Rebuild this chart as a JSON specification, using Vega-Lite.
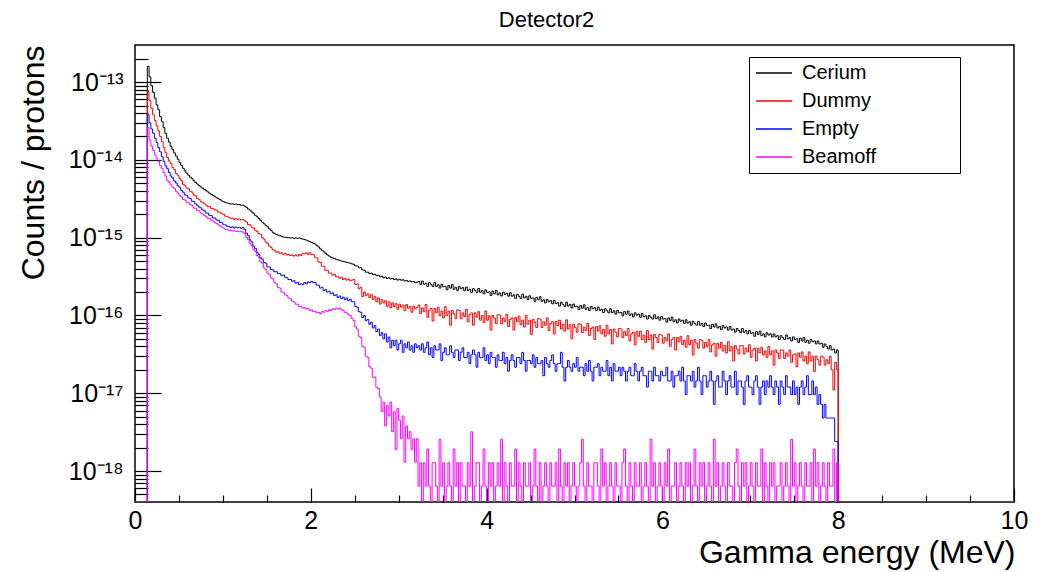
{
"$schema": "https://vega.github.io/schema/vega-lite/v6.json",
"width": 879, "height": 457, "autosize": "none",
"padding": {"left": 135, "top": 45, "right": 33, "bottom": 70},
"background": "white",
"title": {"text": "Detector2", "fontSize": 22, "font": "Liberation Sans", "fontWeight": "normal", "color": "black", "anchor": "middle", "frame": "group", "baseline": "alphabetic", "offset": 18, "dx": -28, "dy": 22},
"data": {"values": [
{"E":0,"Cerium":4e-19,"Dummy":4e-19,"Empty":4e-19,"Beamoff":4e-19},
{"E":0.14,"Cerium":1.6e-13,"Dummy":7.6e-14,"Empty":3.8e-14,"Beamoff":2.6e-14},
{"E":0.16,"Cerium":1.17e-13,"Dummy":5.8e-14,"Empty":3.0e-14,"Beamoff":1.8e-14},
{"E":0.18,"Cerium":9.0e-14,"Dummy":4.6e-14,"Empty":2.5e-14,"Beamoff":1.5e-14},
{"E":0.20,"Cerium":7.4e-14,"Dummy":3.8e-14,"Empty":2.2e-14,"Beamoff":1.33e-14},
{"E":0.22,"Cerium":6.2e-14,"Dummy":3.2e-14,"Empty":1.9e-14,"Beamoff":1.16e-14},
{"E":0.24,"Cerium":5.1e-14,"Dummy":2.75e-14,"Empty":1.67e-14,"Beamoff":1.05e-14},
{"E":0.26,"Cerium":4.4e-14,"Dummy":2.36e-14,"Empty":1.44e-14,"Beamoff":9.6e-15},
{"E":0.28,"Cerium":3.6e-14,"Dummy":2.0e-14,"Empty":1.27e-14,"Beamoff":8.4e-15},
{"E":0.30,"Cerium":3.1e-14,"Dummy":1.71e-14,"Empty":1.1e-14,"Beamoff":7.8e-15},
{"E":0.32,"Cerium":2.6e-14,"Dummy":1.44e-14,"Empty":9.6e-15,"Beamoff":6.9e-15},
{"E":0.34,"Cerium":2.2e-14,"Dummy":1.24e-14,"Empty":8.4e-15,"Beamoff":6.2e-15},
{"E":0.36,"Cerium":1.9e-14,"Dummy":1.07e-14,"Empty":7.7e-15,"Beamoff":5.4e-15},
{"E":0.38,"Cerium":1.7e-14,"Dummy":9.7e-15,"Empty":6.9e-15,"Beamoff":5.15e-15},
{"E":0.40,"Cerium":1.5e-14,"Dummy":9.0e-15,"Empty":6.2e-15,"Beamoff":4.8e-15},
{"E":0.42,"Cerium":1.36e-14,"Dummy":8.0e-15,"Empty":5.85e-15,"Beamoff":4.45e-15},
{"E":0.44,"Cerium":1.23e-14,"Dummy":7.5e-15,"Empty":5.35e-15,"Beamoff":4.3e-15},
{"E":0.46,"Cerium":1.12e-14,"Dummy":6.7e-15,"Empty":5.05e-15,"Beamoff":3.95e-15},
{"E":0.48,"Cerium":1.02e-14,"Dummy":6.35e-15,"Empty":4.65e-15,"Beamoff":3.75e-15},
{"E":0.50,"Cerium":9.3e-15,"Dummy":5.75e-15,"Empty":4.45e-15,"Beamoff":3.5e-15},
{"E":0.52,"Cerium":8.5e-15,"Dummy":5.45e-15,"Empty":4.05e-15,"Beamoff":3.35e-15},
{"E":0.54,"Cerium":7.8e-15,"Dummy":4.85e-15,"Empty":3.85e-15,"Beamoff":3.1e-15},
{"E":0.56,"Cerium":7.25e-15,"Dummy":4.65e-15,"Empty":3.55e-15,"Beamoff":3.05e-15},
{"E":0.58,"Cerium":6.75e-15,"Dummy":4.35e-15,"Empty":3.5e-15,"Beamoff":2.85e-15},
{"E":0.60,"Cerium":6.35e-15,"Dummy":4.25e-15,"Empty":3.25e-15,"Beamoff":2.8e-15},
{"E":0.62,"Cerium":6.0e-15,"Dummy":3.95e-15,"Empty":3.2e-15,"Beamoff":2.65e-15},
{"E":0.64,"Cerium":5.75e-15,"Dummy":3.85e-15,"Empty":2.95e-15,"Beamoff":2.62e-15},
{"E":0.66,"Cerium":5.4e-15,"Dummy":3.55e-15,"Empty":2.92e-15,"Beamoff":2.42e-15},
{"E":0.68,"Cerium":5.15e-15,"Dummy":3.45e-15,"Empty":2.72e-15,"Beamoff":2.38e-15},
{"E":0.70,"Cerium":4.9e-15,"Dummy":3.18e-15,"Empty":2.62e-15,"Beamoff":2.22e-15},
{"E":0.72,"Cerium":4.7e-15,"Dummy":3.12e-15,"Empty":2.48e-15,"Beamoff":2.22e-15},
{"E":0.74,"Cerium":4.5e-15,"Dummy":2.92e-15,"Empty":2.42e-15,"Beamoff":2.08e-15},
{"E":0.76,"Cerium":4.32e-15,"Dummy":2.84e-15,"Empty":2.28e-15,"Beamoff":2.02e-15},
{"E":0.78,"Cerium":4.18e-15,"Dummy":2.72e-15,"Empty":2.22e-15,"Beamoff":1.93e-15},
{"E":0.80,"Cerium":4.02e-15,"Dummy":2.63e-15,"Empty":2.08e-15,"Beamoff":1.88e-15},
{"E":0.82,"Cerium":3.88e-15,"Dummy":2.52e-15,"Empty":2.07e-15,"Beamoff":1.78e-15},
{"E":0.84,"Cerium":3.72e-15,"Dummy":2.51e-15,"Empty":1.93e-15,"Beamoff":1.76e-15},
{"E":0.86,"Cerium":3.6e-15,"Dummy":2.38e-15,"Empty":1.92e-15,"Beamoff":1.68e-15},
{"E":0.88,"Cerium":3.5e-15,"Dummy":2.36e-15,"Empty":1.79e-15,"Beamoff":1.64e-15},
{"E":0.90,"Cerium":3.38e-15,"Dummy":2.28e-15,"Empty":1.79e-15,"Beamoff":1.56e-15},
{"E":0.92,"Cerium":3.26e-15,"Dummy":2.26e-15,"Empty":1.69e-15,"Beamoff":1.52e-15},
{"E":0.94,"Cerium":3.16e-15,"Dummy":2.13e-15,"Empty":1.67e-15,"Beamoff":1.46e-15},
{"E":0.96,"Cerium":3.08e-15,"Dummy":2.12e-15,"Empty":1.57e-15,"Beamoff":1.42e-15},
{"E":0.98,"Cerium":2.96e-15,"Dummy":2.03e-15,"Empty":1.56e-15,"Beamoff":1.37e-15},
{"E":1.00,"Cerium":2.9e-15,"Dummy":2.01e-15,"Empty":1.47e-15,"Beamoff":1.33e-15},
{"E":1.02,"Cerium":2.82e-15,"Dummy":1.89e-15,"Empty":1.46e-15,"Beamoff":1.28e-15},
{"E":1.04,"Cerium":2.79e-15,"Dummy":1.87e-15,"Empty":1.4e-15,"Beamoff":1.27e-15},
{"E":1.06,"Cerium":2.76e-15,"Dummy":1.81e-15,"Empty":1.39e-15,"Beamoff":1.24e-15},
{"E":1.08,"Cerium":2.71e-15,"Dummy":1.77e-15,"Empty":1.35e-15,"Beamoff":1.25e-15},
{"E":1.10,"Cerium":2.72e-15,"Dummy":1.79e-15,"Empty":1.38e-15,"Beamoff":1.22e-15},
{"E":1.12,"Cerium":2.68e-15,"Dummy":1.72e-15,"Empty":1.33e-15,"Beamoff":1.23e-15},
{"E":1.14,"Cerium":2.7e-15,"Dummy":1.76e-15,"Empty":1.37e-15,"Beamoff":1.2e-15},
{"E":1.16,"Cerium":2.66e-15,"Dummy":1.7e-15,"Empty":1.34e-15,"Beamoff":1.22e-15},
{"E":1.18,"Cerium":2.67e-15,"Dummy":1.74e-15,"Empty":1.36e-15,"Beamoff":1.19e-15},
{"E":1.20,"Cerium":2.61e-15,"Dummy":1.69e-15,"Empty":1.32e-15,"Beamoff":1.21e-15},
{"E":1.22,"Cerium":2.62e-15,"Dummy":1.71e-15,"Empty":1.35e-15,"Beamoff":1.18e-15},
{"E":1.24,"Cerium":2.55e-15,"Dummy":1.65e-15,"Empty":1.27e-15,"Beamoff":1.13e-15},
{"E":1.26,"Cerium":2.46e-15,"Dummy":1.59e-15,"Empty":1.14e-15,"Beamoff":1.01e-15},
{"E":1.28,"Cerium":2.34e-15,"Dummy":1.48e-15,"Empty":1.06e-15,"Beamoff":9.4e-16},
{"E":1.30,"Cerium":2.26e-15,"Dummy":1.46e-15,"Empty":9.4e-16,"Beamoff":8.4e-16},
{"E":1.32,"Cerium":2.14e-15,"Dummy":1.36e-15,"Empty":8.8e-16,"Beamoff":7.9e-16},
{"E":1.34,"Cerium":2.06e-15,"Dummy":1.33e-15,"Empty":7.8e-16,"Beamoff":7.1e-16},
{"E":1.36,"Cerium":1.94e-15,"Dummy":1.25e-15,"Empty":7.3e-16,"Beamoff":6.7e-16},
{"E":1.38,"Cerium":1.86e-15,"Dummy":1.21e-15,"Empty":6.5e-16,"Beamoff":5.9e-16},
{"E":1.40,"Cerium":1.77e-15,"Dummy":1.13e-15,"Empty":6.1e-16,"Beamoff":5.6e-16},
{"E":1.42,"Cerium":1.67e-15,"Dummy":1.11e-15,"Empty":5.5e-16,"Beamoff":4.9e-16},
{"E":1.44,"Cerium":1.58e-15,"Dummy":1.0e-15,"Empty":5.3e-16,"Beamoff":4.7e-16},
{"E":1.46,"Cerium":1.51e-15,"Dummy":9.6e-16,"Empty":4.8e-16,"Beamoff":4.1e-16},
{"E":1.48,"Cerium":1.44e-15,"Dummy":8.8e-16,"Empty":4.7e-16,"Beamoff":3.9e-16},
{"E":1.50,"Cerium":1.38e-15,"Dummy":8.4e-16,"Empty":4.2e-16,"Beamoff":3.5e-16},
{"E":1.52,"Cerium":1.3e-15,"Dummy":7.8e-16,"Empty":4.2e-16,"Beamoff":3.35e-16},
{"E":1.54,"Cerium":1.24e-15,"Dummy":7.5e-16,"Empty":3.9e-16,"Beamoff":3.05e-16},
{"E":1.56,"Cerium":1.17e-15,"Dummy":7.0e-16,"Empty":3.85e-16,"Beamoff":2.95e-16},
{"E":1.58,"Cerium":1.13e-15,"Dummy":6.9e-16,"Empty":3.65e-16,"Beamoff":2.65e-16},
{"E":1.60,"Cerium":1.1e-15,"Dummy":6.5e-16,"Empty":3.65e-16,"Beamoff":2.55e-16},
{"E":1.62,"Cerium":1.08e-15,"Dummy":6.6e-16,"Empty":3.45e-16,"Beamoff":2.3e-16},
{"E":1.64,"Cerium":1.06e-15,"Dummy":6.3e-16,"Empty":3.45e-16,"Beamoff":2.25e-16},
{"E":1.66,"Cerium":1.04e-15,"Dummy":6.4e-16,"Empty":3.25e-16,"Beamoff":2.0e-16},
{"E":1.68,"Cerium":1.02e-15,"Dummy":6.1e-16,"Empty":3.3e-16,"Beamoff":1.98e-16},
{"E":1.70,"Cerium":1.01e-15,"Dummy":6.3e-16,"Empty":3.1e-16,"Beamoff":1.84e-16},
{"E":1.72,"Cerium":1.0e-15,"Dummy":6.0e-16,"Empty":3.05e-16,"Beamoff":1.8e-16},
{"E":1.74,"Cerium":1.0e-15,"Dummy":6.1e-16,"Empty":2.9e-16,"Beamoff":1.68e-16},
{"E":1.76,"Cerium":9.9e-16,"Dummy":5.9e-16,"Empty":2.9e-16,"Beamoff":1.64e-16},
{"E":1.78,"Cerium":1.0e-15,"Dummy":6.0e-16,"Empty":2.75e-16,"Beamoff":1.53e-16},
{"E":1.80,"Cerium":9.8e-16,"Dummy":5.8e-16,"Empty":2.8e-16,"Beamoff":1.5e-16},
{"E":1.82,"Cerium":9.9e-16,"Dummy":6.0e-16,"Empty":2.6e-16,"Beamoff":1.4e-16},
{"E":1.84,"Cerium":9.8e-16,"Dummy":5.8e-16,"Empty":2.65e-16,"Beamoff":1.39e-16},
{"E":1.86,"Cerium":9.9e-16,"Dummy":6.1e-16,"Empty":2.5e-16,"Beamoff":1.3e-16},
{"E":1.88,"Cerium":9.7e-16,"Dummy":5.9e-16,"Empty":2.55e-16,"Beamoff":1.3e-16},
{"E":1.90,"Cerium":9.6e-16,"Dummy":6.3e-16,"Empty":2.5e-16,"Beamoff":1.25e-16},
{"E":1.92,"Cerium":9.5e-16,"Dummy":6.2e-16,"Empty":2.65e-16,"Beamoff":1.27e-16},
{"E":1.94,"Cerium":9.3e-16,"Dummy":6.4e-16,"Empty":2.55e-16,"Beamoff":1.21e-16},
{"E":1.96,"Cerium":9.1e-16,"Dummy":6.1e-16,"Empty":2.7e-16,"Beamoff":1.23e-16},
{"E":1.98,"Cerium":8.9e-16,"Dummy":6.4e-16,"Empty":2.65e-16,"Beamoff":1.16e-16},
{"E":2.00,"Cerium":8.7e-16,"Dummy":6.1e-16,"Empty":2.75e-16,"Beamoff":1.18e-16},
{"E":2.02,"Cerium":8.5e-16,"Dummy":6.1e-16,"Empty":2.65e-16,"Beamoff":1.12e-16},
{"E":2.04,"Cerium":8.3e-16,"Dummy":5.6e-16,"Empty":2.65e-16,"Beamoff":1.14e-16},
{"E":2.06,"Cerium":7.9e-16,"Dummy":5.5e-16,"Empty":2.45e-16,"Beamoff":1.08e-16},
{"E":2.08,"Cerium":7.6e-16,"Dummy":4.9e-16,"Empty":2.45e-16,"Beamoff":1.1e-16},
{"E":2.10,"Cerium":7.2e-16,"Dummy":4.8e-16,"Empty":2.25e-16,"Beamoff":1.05e-16},
{"E":2.12,"Cerium":6.9e-16,"Dummy":4.3e-16,"Empty":2.3e-16,"Beamoff":1.12e-16},
{"E":2.14,"Cerium":6.6e-16,"Dummy":4.3e-16,"Empty":2.1e-16,"Beamoff":1.1e-16},
{"E":2.16,"Cerium":6.3e-16,"Dummy":3.8e-16,"Empty":2.15e-16,"Beamoff":1.16e-16},
{"E":2.18,"Cerium":6.0e-16,"Dummy":3.8e-16,"Empty":2.0e-16,"Beamoff":1.13e-16},
{"E":2.20,"Cerium":5.8e-16,"Dummy":3.5e-16,"Empty":2.05e-16,"Beamoff":1.19e-16},
{"E":2.22,"Cerium":5.6e-16,"Dummy":3.5e-16,"Empty":1.9e-16,"Beamoff":1.16e-16},
{"E":2.24,"Cerium":5.5e-16,"Dummy":3.3e-16,"Empty":1.95e-16,"Beamoff":1.22e-16},
{"E":2.26,"Cerium":5.4e-16,"Dummy":3.4e-16,"Empty":1.8e-16,"Beamoff":1.19e-16},
{"E":2.28,"Cerium":5.25e-16,"Dummy":3.15e-16,"Empty":1.85e-16,"Beamoff":1.24e-16},
{"E":2.30,"Cerium":5.2e-16,"Dummy":3.15e-16,"Empty":1.7e-16,"Beamoff":1.21e-16},
{"E":2.32,"Cerium":5.1e-16,"Dummy":3.0e-16,"Empty":1.78e-16,"Beamoff":1.25e-16},
{"E":2.34,"Cerium":5.0e-16,"Dummy":3.1e-16,"Empty":1.65e-16,"Beamoff":1.19e-16},
{"E":2.36,"Cerium":4.95e-16,"Dummy":2.9e-16,"Empty":1.72e-16,"Beamoff":1.16e-16},
{"E":2.38,"Cerium":4.9e-16,"Dummy":3.0e-16,"Empty":1.6e-16,"Beamoff":1.1e-16},
{"E":2.40,"Cerium":4.8e-16,"Dummy":2.85e-16,"Empty":1.68e-16,"Beamoff":1.08e-16},
{"E":2.42,"Cerium":4.75e-16,"Dummy":2.95e-16,"Empty":1.56e-16,"Beamoff":1.02e-16},
{"E":2.44,"Cerium":4.7e-16,"Dummy":2.8e-16,"Empty":1.62e-16,"Beamoff":1.0e-16},
{"E":2.46,"Cerium":4.6e-16,"Dummy":2.85e-16,"Empty":1.5e-16,"Beamoff":9.2e-17},
{"E":2.48,"Cerium":4.55e-16,"Dummy":2.9e-16,"Empty":1.5e-16,"Beamoff":8.6e-17},
{"E":2.50,"Cerium":4.35e-16,"Dummy":2.5e-16,"Empty":1.3e-16,"Beamoff":7.2e-17},
{"E":2.52,"Cerium":4.32e-16,"Dummy":2.55e-16,"Empty":1.28e-16,"Beamoff":6.7e-17},
{"E":2.54,"Cerium":4.1e-16,"Dummy":2.2e-16,"Empty":1.12e-16,"Beamoff":5.4e-17},
{"E":2.56,"Cerium":4.1e-16,"Dummy":2.3e-16,"Empty":1.1e-16,"Beamoff":5.2e-17},
{"E":2.58,"Cerium":3.85e-16,"Dummy":1.75e-16,"Empty":9.4e-17,"Beamoff":4.0e-17},
{"E":2.60,"Cerium":3.82e-16,"Dummy":2.0e-16,"Empty":1.0e-16,"Beamoff":3.9e-17},
{"E":2.62,"Cerium":3.6e-16,"Dummy":1.8e-16,"Empty":8.6e-17,"Beamoff":3.0e-17},
{"E":2.64,"Cerium":3.6e-16,"Dummy":1.9e-16,"Empty":8.9e-17,"Beamoff":2.9e-17},
{"E":2.66,"Cerium":3.45e-16,"Dummy":1.7e-16,"Empty":7.7e-17,"Beamoff":2.2e-17},
{"E":2.68,"Cerium":3.5e-16,"Dummy":1.85e-16,"Empty":8.2e-17,"Beamoff":2.1e-17},
{"E":2.70,"Cerium":3.35e-16,"Dummy":1.6e-16,"Empty":6.9e-17,"Beamoff":1.6e-17},
{"E":2.72,"Cerium":3.38e-16,"Dummy":1.75e-16,"Empty":7.4e-17,"Beamoff":1.62e-17},
{"E":2.74,"Cerium":3.25e-16,"Dummy":1.5e-16,"Empty":6.2e-17,"Beamoff":1.2e-17},
{"E":2.76,"Cerium":3.3e-16,"Dummy":1.68e-16,"Empty":6.7e-17,"Beamoff":1.15e-17},
{"E":2.78,"Cerium":3.15e-16,"Dummy":1.4e-16,"Empty":5.5e-17,"Beamoff":9.0e-18},
{"E":2.80,"Cerium":3.2e-16,"Dummy":1.6e-16,"Empty":6.0e-17,"Beamoff":5.8e-18},
{"E":2.82,"Cerium":3.05e-16,"Dummy":1.45e-16,"Empty":5.0e-17,"Beamoff":7.7e-18},
{"E":2.84,"Cerium":3.12e-16,"Dummy":1.55e-16,"Empty":5.8e-17,"Beamoff":3.8e-18},
{"E":2.86,"Cerium":3.0e-16,"Dummy":1.3e-16,"Empty":4.56e-17,"Beamoff":7.0e-18},
{"E":2.88,"Cerium":3.05e-16,"Dummy":1.5e-16,"Empty":5.28e-17,"Beamoff":5.1e-18},
{"E":2.90,"Cerium":2.95e-16,"Dummy":1.25e-16,"Empty":3.84e-17,"Beamoff":7.7e-18},
{"E":2.92,"Cerium":3.0e-16,"Dummy":1.45e-16,"Empty":4.8e-17,"Beamoff":3.2e-18},
{"E":2.94,"Cerium":2.9e-16,"Dummy":1.3e-16,"Empty":4.08e-17,"Beamoff":5.8e-18},
{"E":2.96,"Cerium":2.95e-16,"Dummy":1.42e-16,"Empty":4.8e-17,"Beamoff":1.9e-18},
{"E":2.98,"Cerium":2.85e-16,"Dummy":1.2e-16,"Empty":3.6e-17,"Beamoff":6.4e-18},
{"E":3.00,"Cerium":2.92e-16,"Dummy":1.4e-16,"Empty":4.32e-17,"Beamoff":4.5e-18},
{"E":3.02,"Cerium":2.84e-16,"Dummy":1.28e-16,"Empty":4.8e-17,"Beamoff":2.6e-18},
{"E":3.04,"Cerium":2.88e-16,"Dummy":1.36e-16,"Empty":3.36e-17,"Beamoff":5.1e-18},
{"E":3.06,"Cerium":2.78e-16,"Dummy":1.15e-16,"Empty":4.32e-17,"Beamoff":1.3e-18},
{"E":3.08,"Cerium":2.82e-16,"Dummy":1.38e-16,"Empty":3.84e-17,"Beamoff":3.8e-18},
{"E":3.10,"Cerium":2.74e-16,"Dummy":1.24e-16,"Empty":4.56e-17,"Beamoff":2.6e-18},
{"E":3.12,"Cerium":2.78e-16,"Dummy":1.3e-16,"Empty":3.6e-17,"Beamoff":3.2e-18},
{"E":3.14,"Cerium":2.7e-16,"Dummy":1.1e-16,"Empty":4.08e-17,"Beamoff":1.9e-18},
{"E":3.16,"Cerium":2.73e-16,"Dummy":1.32e-16,"Empty":3.36e-17,"Beamoff":2.6e-18},
{"E":3.18,"Cerium":2.64e-16,"Dummy":1.22e-16,"Empty":4.32e-17,"Beamoff":1.3e-18},
{"E":3.20,"Cerium":2.68e-16,"Dummy":1.27e-16,"Empty":3.84e-17,"Beamoff":2.6e-18},
{"E":3.22,"Cerium":2.74e-16,"Dummy":1.36e-16,"Empty":4.08e-17,"Beamoff":6.4e-19},
{"E":3.24,"Cerium":2.51e-16,"Dummy":1.06e-16,"Empty":3.6e-17,"Beamoff":1.28e-18},
{"E":3.26,"Cerium":2.77e-16,"Dummy":1.25e-16,"Empty":4.32e-17,"Beamoff":4e-19},
{"E":3.28,"Cerium":2.52e-16,"Dummy":1.12e-16,"Empty":3.36e-17,"Beamoff":1.28e-18},
{"E":3.30,"Cerium":2.6e-16,"Dummy":1.38e-16,"Empty":3.84e-17,"Beamoff":6.4e-19},
{"E":3.32,"Cerium":2.35e-16,"Dummy":9.5e-17,"Empty":4.56e-17,"Beamoff":1.92e-18},
{"E":3.34,"Cerium":2.64e-16,"Dummy":1.17e-16,"Empty":3.12e-17,"Beamoff":6.4e-19},
{"E":3.36,"Cerium":2.49e-16,"Dummy":1.23e-16,"Empty":3.84e-17,"Beamoff":4e-19},
{"E":3.38,"Cerium":2.35e-16,"Dummy":8.5e-17,"Empty":2.88e-17,"Beamoff":1.28e-18},
{"E":3.40,"Cerium":2.65e-16,"Dummy":1.23e-16,"Empty":4.08e-17,"Beamoff":1.28e-18},
{"E":3.42,"Cerium":2.36e-16,"Dummy":1.08e-16,"Empty":3.6e-17,"Beamoff":6.4e-19},
{"E":3.44,"Cerium":2.48e-16,"Dummy":1.28e-16,"Empty":3.6e-17,"Beamoff":4e-19},
{"E":3.46,"Cerium":2.25e-16,"Dummy":9.9e-17,"Empty":4.32e-17,"Beamoff":2.56e-18},
{"E":3.48,"Cerium":2.51e-16,"Dummy":1.14e-16,"Empty":2.64e-17,"Beamoff":6.4e-19},
{"E":3.50,"Cerium":2.34e-16,"Dummy":9.3e-17,"Empty":3.36e-17,"Beamoff":1.28e-18},
{"E":3.52,"Cerium":2.36e-16,"Dummy":1.3e-16,"Empty":3.84e-17,"Beamoff":4e-19},
{"E":3.54,"Cerium":2.14e-16,"Dummy":1.0e-16,"Empty":3.12e-17,"Beamoff":6.4e-19},
{"E":3.56,"Cerium":2.43e-16,"Dummy":1.14e-16,"Empty":3.12e-17,"Beamoff":1.28e-18},
{"E":3.58,"Cerium":2.25e-16,"Dummy":7.5e-17,"Empty":4.08e-17,"Beamoff":6.4e-19},
{"E":3.60,"Cerium":2.49e-16,"Dummy":1.16e-16,"Empty":3.36e-17,"Beamoff":4e-19},
{"E":3.62,"Cerium":2.17e-16,"Dummy":1.05e-16,"Empty":2.88e-17,"Beamoff":1.92e-18},
{"E":3.64,"Cerium":2.3e-16,"Dummy":9.1e-17,"Empty":3.6e-17,"Beamoff":6.4e-19},
{"E":3.66,"Cerium":2.1e-16,"Dummy":1.18e-16,"Empty":3.6e-17,"Beamoff":1.28e-18},
{"E":3.68,"Cerium":2.35e-16,"Dummy":1.16e-16,"Empty":2.64e-17,"Beamoff":4e-19},
{"E":3.70,"Cerium":2.2e-16,"Dummy":9.1e-17,"Empty":3.36e-17,"Beamoff":1.28e-18},
{"E":3.72,"Cerium":2.28e-16,"Dummy":1.08e-16,"Empty":3.84e-17,"Beamoff":6.4e-19},
{"E":3.74,"Cerium":2.08e-16,"Dummy":9.7e-17,"Empty":2.88e-17,"Beamoff":6.4e-19},
{"E":3.76,"Cerium":2.31e-16,"Dummy":1.2e-16,"Empty":2.88e-17,"Beamoff":4e-19},
{"E":3.78,"Cerium":2.1e-16,"Dummy":8.3e-17,"Empty":3.36e-17,"Beamoff":1.28e-18},
{"E":3.80,"Cerium":2.17e-16,"Dummy":1.03e-16,"Empty":2.4e-17,"Beamoff":6.4e-19},
{"E":3.82,"Cerium":1.97e-16,"Dummy":1.08e-16,"Empty":3.12e-17,"Beamoff":3.2e-18},
{"E":3.84,"Cerium":2.21e-16,"Dummy":7.5e-17,"Empty":3.6e-17,"Beamoff":4e-19},
{"E":3.86,"Cerium":2.09e-16,"Dummy":1.08e-16,"Empty":3.12e-17,"Beamoff":6.4e-19},
{"E":3.88,"Cerium":1.97e-16,"Dummy":9.5e-17,"Empty":2.16e-17,"Beamoff":1.28e-18},
{"E":3.90,"Cerium":2.22e-16,"Dummy":1.12e-16,"Empty":3.36e-17,"Beamoff":1.28e-18},
{"E":3.92,"Cerium":1.99e-16,"Dummy":8.7e-17,"Empty":2.88e-17,"Beamoff":4e-19},
{"E":3.94,"Cerium":2.1e-16,"Dummy":1.0e-16,"Empty":2.88e-17,"Beamoff":6.4e-19},
{"E":3.96,"Cerium":1.9e-16,"Dummy":8.1e-17,"Empty":3.84e-17,"Beamoff":1.92e-18},
{"E":3.98,"Cerium":2.13e-16,"Dummy":1.14e-16,"Empty":2.64e-17,"Beamoff":6.4e-19},
{"E":4.00,"Cerium":1.98e-16,"Dummy":8.7e-17,"Empty":3.12e-17,"Beamoff":4e-19},
{"E":4.02,"Cerium":2.01e-16,"Dummy":9.9e-17,"Empty":2.4e-17,"Beamoff":1.28e-18},
{"E":4.04,"Cerium":1.81e-16,"Dummy":6.5e-17,"Empty":3.36e-17,"Beamoff":6.4e-19},
{"E":4.06,"Cerium":2.06e-16,"Dummy":1.0e-16,"Empty":2.88e-17,"Beamoff":1.28e-18},
{"E":4.08,"Cerium":1.9e-16,"Dummy":9.2e-17,"Empty":2.88e-17,"Beamoff":4e-19},
{"E":4.10,"Cerium":2.1e-16,"Dummy":7.9e-17,"Empty":2.16e-17,"Beamoff":6.4e-19},
{"E":4.12,"Cerium":1.84e-16,"Dummy":1.02e-16,"Empty":3.12e-17,"Beamoff":1.28e-18},
{"E":4.14,"Cerium":1.95e-16,"Dummy":1.01e-16,"Empty":2.64e-17,"Beamoff":6.4e-19},
{"E":4.16,"Cerium":1.78e-16,"Dummy":7.8e-17,"Empty":2.64e-17,"Beamoff":2.56e-18},
{"E":4.18,"Cerium":1.99e-16,"Dummy":9.3e-17,"Empty":3.36e-17,"Beamoff":4e-19},
{"E":4.20,"Cerium":1.87e-16,"Dummy":8.4e-17,"Empty":2.4e-17,"Beamoff":1.28e-18},
{"E":4.22,"Cerium":1.93e-16,"Dummy":1.03e-16,"Empty":2.88e-17,"Beamoff":6.4e-19},
{"E":4.24,"Cerium":1.77e-16,"Dummy":7.2e-17,"Empty":1.92e-17,"Beamoff":4e-19},
{"E":4.26,"Cerium":1.96e-16,"Dummy":8.9e-17,"Empty":2.64e-17,"Beamoff":1.28e-18},
{"E":4.28,"Cerium":1.77e-16,"Dummy":9.3e-17,"Empty":3.12e-17,"Beamoff":6.4e-19},
{"E":4.30,"Cerium":1.84e-16,"Dummy":6.5e-17,"Empty":2.64e-17,"Beamoff":6.4e-19},
{"E":4.32,"Cerium":1.66e-16,"Dummy":9.4e-17,"Empty":2.16e-17,"Beamoff":1.92e-18},
{"E":4.34,"Cerium":1.87e-16,"Dummy":8.3e-17,"Empty":2.88e-17,"Beamoff":4e-19},
{"E":4.36,"Cerium":1.76e-16,"Dummy":9.8e-17,"Empty":2.88e-17,"Beamoff":1.28e-18},
{"E":4.38,"Cerium":1.66e-16,"Dummy":7.6e-17,"Empty":2.4e-17,"Beamoff":6.4e-19},
{"E":4.40,"Cerium":1.88e-16,"Dummy":8.7e-17,"Empty":3.36e-17,"Beamoff":4e-19},
{"E":4.42,"Cerium":1.68e-16,"Dummy":7.1e-17,"Empty":2.64e-17,"Beamoff":1.28e-18},
{"E":4.44,"Cerium":1.76e-16,"Dummy":1.0e-16,"Empty":1.92e-17,"Beamoff":6.4e-19},
{"E":4.46,"Cerium":1.6e-16,"Dummy":7.7e-17,"Empty":2.64e-17,"Beamoff":6.4e-19},
{"E":4.48,"Cerium":1.79e-16,"Dummy":8.7e-17,"Empty":2.64e-17,"Beamoff":1.28e-18},
{"E":4.50,"Cerium":1.66e-16,"Dummy":5.7e-17,"Empty":2.4e-17,"Beamoff":4e-19},
{"E":4.52,"Cerium":1.68e-16,"Dummy":8.9e-17,"Empty":3.12e-17,"Beamoff":6.4e-19},
{"E":4.54,"Cerium":1.52e-16,"Dummy":8.1e-17,"Empty":2.16e-17,"Beamoff":1.92e-18},
{"E":4.56,"Cerium":1.71e-16,"Dummy":7.0e-17,"Empty":2.88e-17,"Beamoff":6.4e-19},
{"E":4.58,"Cerium":1.59e-16,"Dummy":9.1e-17,"Empty":2.4e-17,"Beamoff":4e-19},
{"E":4.60,"Cerium":1.74e-16,"Dummy":9.0e-17,"Empty":2.4e-17,"Beamoff":1.28e-18},
{"E":4.62,"Cerium":1.52e-16,"Dummy":7.0e-17,"Empty":2.64e-17,"Beamoff":4e-19},
{"E":4.64,"Cerium":1.59e-16,"Dummy":8.3e-17,"Empty":1.68e-17,"Beamoff":6.4e-19},
{"E":4.66,"Cerium":1.45e-16,"Dummy":7.5e-17,"Empty":2.88e-17,"Beamoff":1.28e-18},
{"E":4.68,"Cerium":1.61e-16,"Dummy":9.3e-17,"Empty":2.4e-17,"Beamoff":6.4e-19},
{"E":4.70,"Cerium":1.5e-16,"Dummy":6.4e-17,"Empty":2.16e-17,"Beamoff":4e-19},
{"E":4.72,"Cerium":1.55e-16,"Dummy":7.9e-17,"Empty":2.64e-17,"Beamoff":1.28e-18},
{"E":4.74,"Cerium":1.41e-16,"Dummy":8.3e-17,"Empty":3.12e-17,"Beamoff":6.4e-19},
{"E":4.76,"Cerium":1.56e-16,"Dummy":5.8e-17,"Empty":2.4e-17,"Beamoff":6.4e-19},
{"E":4.78,"Cerium":1.42e-16,"Dummy":8.4e-17,"Empty":1.92e-17,"Beamoff":1.28e-18},
{"E":4.80,"Cerium":1.46e-16,"Dummy":7.4e-17,"Empty":2.4e-17,"Beamoff":4e-19},
{"E":4.82,"Cerium":1.32e-16,"Dummy":8.7e-17,"Empty":2.4e-17,"Beamoff":1.92e-18},
{"E":4.84,"Cerium":1.48e-16,"Dummy":6.7e-17,"Empty":3.36e-17,"Beamoff":6.4e-19},
{"E":4.86,"Cerium":1.39e-16,"Dummy":7.7e-17,"Empty":2.16e-17,"Beamoff":4e-19},
{"E":4.88,"Cerium":1.31e-16,"Dummy":6.3e-17,"Empty":1.44e-17,"Beamoff":1.28e-18},
{"E":4.90,"Cerium":1.48e-16,"Dummy":8.8e-17,"Empty":2.16e-17,"Beamoff":6.4e-19},
{"E":4.92,"Cerium":1.32e-16,"Dummy":6.7e-17,"Empty":2.64e-17,"Beamoff":1.28e-18},
{"E":4.94,"Cerium":1.39e-16,"Dummy":7.6e-17,"Empty":2.16e-17,"Beamoff":4e-19},
{"E":4.96,"Cerium":1.25e-16,"Dummy":5.0e-17,"Empty":1.92e-17,"Beamoff":6.4e-19},
{"E":4.98,"Cerium":1.4e-16,"Dummy":7.7e-17,"Empty":2.4e-17,"Beamoff":1.28e-18},
{"E":5.00,"Cerium":1.3e-16,"Dummy":7.0e-17,"Empty":2.16e-17,"Beamoff":6.4e-19},
{"E":5.02,"Cerium":1.31e-16,"Dummy":6.1e-17,"Empty":2.88e-17,"Beamoff":4e-19},
{"E":5.04,"Cerium":1.19e-16,"Dummy":7.8e-17,"Empty":1.92e-17,"Beamoff":6.4e-19},
{"E":5.06,"Cerium":1.34e-16,"Dummy":7.7e-17,"Empty":2.16e-17,"Beamoff":1.28e-18},
{"E":5.08,"Cerium":1.24e-16,"Dummy":6.0e-17,"Empty":2.16e-17,"Beamoff":2.56e-18},
{"E":5.10,"Cerium":1.37e-16,"Dummy":7.1e-17,"Empty":1.68e-17,"Beamoff":6.4e-19},
{"E":5.12,"Cerium":1.2e-16,"Dummy":6.4e-17,"Empty":2.4e-17,"Beamoff":4e-19},
{"E":5.14,"Cerium":1.27e-16,"Dummy":7.9e-17,"Empty":1.92e-17,"Beamoff":1.28e-18},
{"E":5.16,"Cerium":1.16e-16,"Dummy":5.5e-17,"Empty":2.64e-17,"Beamoff":6.4e-19},
{"E":5.18,"Cerium":1.3e-16,"Dummy":6.8e-17,"Empty":1.92e-17,"Beamoff":6.4e-19},
{"E":5.20,"Cerium":1.22e-16,"Dummy":7.1e-17,"Empty":1.44e-17,"Beamoff":4e-19},
{"E":5.22,"Cerium":1.26e-16,"Dummy":4.9e-17,"Empty":2.16e-17,"Beamoff":1.28e-18},
{"E":5.24,"Cerium":1.16e-16,"Dummy":7.2e-17,"Empty":2.16e-17,"Beamoff":1.28e-18},
{"E":5.26,"Cerium":1.28e-16,"Dummy":6.3e-17,"Empty":2.4e-17,"Beamoff":6.4e-19},
{"E":5.28,"Cerium":1.16e-16,"Dummy":7.4e-17,"Empty":1.68e-17,"Beamoff":4e-19},
{"E":5.30,"Cerium":1.2e-16,"Dummy":5.8e-17,"Empty":2.16e-17,"Beamoff":1.92e-18},
{"E":5.32,"Cerium":1.09e-16,"Dummy":6.6e-17,"Empty":1.92e-17,"Beamoff":6.4e-19},
{"E":5.34,"Cerium":1.22e-16,"Dummy":5.4e-17,"Empty":1.92e-17,"Beamoff":1.28e-18},
{"E":5.36,"Cerium":1.15e-16,"Dummy":7.5e-17,"Empty":2.64e-17,"Beamoff":4e-19},
{"E":5.38,"Cerium":1.08e-16,"Dummy":5.8e-17,"Empty":1.68e-17,"Beamoff":6.4e-19},
{"E":5.40,"Cerium":1.22e-16,"Dummy":6.6e-17,"Empty":2.16e-17,"Beamoff":1.28e-18},
{"E":5.42,"Cerium":1.09e-16,"Dummy":4.3e-17,"Empty":1.44e-17,"Beamoff":6.4e-19},
{"E":5.44,"Cerium":1.15e-16,"Dummy":6.7e-17,"Empty":2.4e-17,"Beamoff":4e-19},
{"E":5.46,"Cerium":1.04e-16,"Dummy":6.1e-17,"Empty":1.92e-17,"Beamoff":1.28e-18},
{"E":5.48,"Cerium":1.16e-16,"Dummy":5.3e-17,"Empty":1.92e-17,"Beamoff":6.4e-19},
{"E":5.50,"Cerium":1.08e-16,"Dummy":6.8e-17,"Empty":2.16e-17,"Beamoff":6.4e-19},
{"E":5.52,"Cerium":1.09e-16,"Dummy":6.7e-17,"Empty":1.68e-17,"Beamoff":4e-19},
{"E":5.54,"Cerium":9.9e-17,"Dummy":5.2e-17,"Empty":2.16e-17,"Beamoff":1.28e-18},
{"E":5.56,"Cerium":1.12e-16,"Dummy":6.2e-17,"Empty":1.92e-17,"Beamoff":1.92e-18},
{"E":5.58,"Cerium":1.04e-16,"Dummy":5.5e-17,"Empty":1.44e-17,"Beamoff":6.4e-19},
{"E":5.60,"Cerium":1.14e-16,"Dummy":6.8e-17,"Empty":1.92e-17,"Beamoff":4e-19},
{"E":5.62,"Cerium":1.0e-16,"Dummy":4.7e-17,"Empty":2.16e-17,"Beamoff":1.28e-18},
{"E":5.64,"Cerium":1.05e-16,"Dummy":5.8e-17,"Empty":1.68e-17,"Beamoff":6.4e-19},
{"E":5.66,"Cerium":9.6e-17,"Dummy":6.1e-17,"Empty":1.68e-17,"Beamoff":4e-19},
{"E":5.68,"Cerium":1.08e-16,"Dummy":4.2e-17,"Empty":2.4e-17,"Beamoff":1.28e-18},
{"E":5.70,"Cerium":1.01e-16,"Dummy":6.2e-17,"Empty":1.92e-17,"Beamoff":6.4e-19},
{"E":5.72,"Cerium":1.04e-16,"Dummy":5.4e-17,"Empty":1.44e-17,"Beamoff":6.4e-19},
{"E":5.74,"Cerium":9.5e-17,"Dummy":6.3e-17,"Empty":1.92e-17,"Beamoff":1.28e-18},
{"E":5.76,"Cerium":1.06e-16,"Dummy":4.9e-17,"Empty":2.16e-17,"Beamoff":4e-19},
{"E":5.78,"Cerium":9.6e-17,"Dummy":5.6e-17,"Empty":1.68e-17,"Beamoff":6.4e-19},
{"E":5.80,"Cerium":9.9e-17,"Dummy":4.5e-17,"Empty":1.68e-17,"Beamoff":1.28e-18},
{"E":5.82,"Cerium":9.0e-17,"Dummy":6.4e-17,"Empty":1.2e-17,"Beamoff":6.4e-19},
{"E":5.84,"Cerium":1.0e-16,"Dummy":4.9e-17,"Empty":1.92e-17,"Beamoff":4e-19},
{"E":5.86,"Cerium":9.5e-17,"Dummy":5.6e-17,"Empty":1.92e-17,"Beamoff":2.56e-18},
{"E":5.88,"Cerium":9.0e-17,"Dummy":3.7e-17,"Empty":1.44e-17,"Beamoff":6.4e-19},
{"E":5.90,"Cerium":1.02e-16,"Dummy":5.7e-17,"Empty":2.16e-17,"Beamoff":1.28e-18},
{"E":5.92,"Cerium":9.1e-17,"Dummy":5.2e-17,"Empty":1.68e-17,"Beamoff":4e-19},
{"E":5.94,"Cerium":9.6e-17,"Dummy":4.5e-17,"Empty":1.68e-17,"Beamoff":6.4e-19},
{"E":5.96,"Cerium":8.7e-17,"Dummy":5.7e-17,"Empty":1.44e-17,"Beamoff":1.28e-18},
{"E":5.98,"Cerium":9.7e-17,"Dummy":5.6e-17,"Empty":1.92e-17,"Beamoff":6.4e-19},
{"E":6.00,"Cerium":9.0e-17,"Dummy":4.4e-17,"Empty":1.68e-17,"Beamoff":4e-19},
{"E":6.02,"Cerium":9.1e-17,"Dummy":5.2e-17,"Empty":1.68e-17,"Beamoff":1.28e-18},
{"E":6.04,"Cerium":8.2e-17,"Dummy":4.7e-17,"Empty":2.16e-17,"Beamoff":6.4e-19},
{"E":6.06,"Cerium":9.3e-17,"Dummy":5.8e-17,"Empty":1.44e-17,"Beamoff":1.92e-18},
{"E":6.08,"Cerium":8.6e-17,"Dummy":4.0e-17,"Empty":1.44e-17,"Beamoff":4e-19},
{"E":6.10,"Cerium":9.5e-17,"Dummy":4.9e-17,"Empty":1.92e-17,"Beamoff":6.4e-19},
{"E":6.12,"Cerium":8.3e-17,"Dummy":5.2e-17,"Empty":1.2e-17,"Beamoff":6.4e-19},
{"E":6.14,"Cerium":8.8e-17,"Dummy":3.6e-17,"Empty":1.68e-17,"Beamoff":1.28e-18},
{"E":6.16,"Cerium":8.0e-17,"Dummy":5.2e-17,"Empty":1.68e-17,"Beamoff":4e-19},
{"E":6.18,"Cerium":9.0e-17,"Dummy":4.6e-17,"Empty":1.92e-17,"Beamoff":6.4e-19},
{"E":6.20,"Cerium":8.4e-17,"Dummy":5.4e-17,"Empty":1.44e-17,"Beamoff":1.28e-18},
{"E":6.22,"Cerium":8.7e-17,"Dummy":4.2e-17,"Empty":2.16e-17,"Beamoff":6.4e-19},
{"E":6.24,"Cerium":7.9e-17,"Dummy":4.8e-17,"Empty":1.44e-17,"Beamoff":4e-19},
{"E":6.26,"Cerium":8.8e-17,"Dummy":3.9e-17,"Empty":9.6e-18,"Beamoff":1.28e-18},
{"E":6.28,"Cerium":8.0e-17,"Dummy":5.5e-17,"Empty":1.68e-17,"Beamoff":6.4e-19},
{"E":6.30,"Cerium":8.3e-17,"Dummy":4.2e-17,"Empty":1.68e-17,"Beamoff":1.28e-18},
{"E":6.32,"Cerium":7.5e-17,"Dummy":4.8e-17,"Empty":1.44e-17,"Beamoff":4e-19},
{"E":6.34,"Cerium":8.4e-17,"Dummy":3.1e-17,"Empty":1.92e-17,"Beamoff":6.4e-19},
{"E":6.36,"Cerium":7.9e-17,"Dummy":4.9e-17,"Empty":1.2e-17,"Beamoff":1.92e-18},
{"E":6.38,"Cerium":7.5e-17,"Dummy":4.4e-17,"Empty":1.44e-17,"Beamoff":6.4e-19},
{"E":6.40,"Cerium":8.4e-17,"Dummy":3.8e-17,"Empty":2.16e-17,"Beamoff":4e-19},
{"E":6.42,"Cerium":7.5e-17,"Dummy":4.9e-17,"Empty":1.44e-17,"Beamoff":1.28e-18},
{"E":6.44,"Cerium":7.9e-17,"Dummy":4.8e-17,"Empty":9.6e-18,"Beamoff":6.4e-19},
{"E":6.46,"Cerium":7.2e-17,"Dummy":3.8e-17,"Empty":1.68e-17,"Beamoff":1.28e-18},
{"E":6.48,"Cerium":8.0e-17,"Dummy":4.5e-17,"Empty":1.68e-17,"Beamoff":4e-19},
{"E":6.50,"Cerium":7.4e-17,"Dummy":4.0e-17,"Empty":1.2e-17,"Beamoff":6.4e-19},
{"E":6.52,"Cerium":7.5e-17,"Dummy":4.9e-17,"Empty":1.44e-17,"Beamoff":1.28e-18},
{"E":6.54,"Cerium":6.8e-17,"Dummy":3.4e-17,"Empty":1.92e-17,"Beamoff":6.4e-19},
{"E":6.56,"Cerium":7.7e-17,"Dummy":4.2e-17,"Empty":1.44e-17,"Beamoff":4e-19},
{"E":6.58,"Cerium":7.1e-17,"Dummy":4.4e-17,"Empty":7.2e-18,"Beamoff":2.56e-18},
{"E":6.60,"Cerium":7.8e-17,"Dummy":3.0e-17,"Empty":1.44e-17,"Beamoff":6.4e-19},
{"E":6.62,"Cerium":6.9e-17,"Dummy":4.4e-17,"Empty":1.68e-17,"Beamoff":1.28e-18},
{"E":6.64,"Cerium":7.2e-17,"Dummy":3.8e-17,"Empty":1.2e-17,"Beamoff":4e-19},
{"E":6.66,"Cerium":6.6e-17,"Dummy":4.5e-17,"Empty":1.2e-17,"Beamoff":6.4e-19},
{"E":6.68,"Cerium":7.4e-17,"Dummy":3.5e-17,"Empty":1.92e-17,"Beamoff":1.28e-18},
{"E":6.70,"Cerium":6.9e-17,"Dummy":4.1e-17,"Empty":1.44e-17,"Beamoff":6.4e-19},
{"E":6.72,"Cerium":7.1e-17,"Dummy":3.3e-17,"Empty":9.6e-18,"Beamoff":4e-19},
{"E":6.74,"Cerium":6.5e-17,"Dummy":4.6e-17,"Empty":1.44e-17,"Beamoff":1.28e-18},
{"E":6.76,"Cerium":7.2e-17,"Dummy":3.5e-17,"Empty":1.68e-17,"Beamoff":6.4e-19},
{"E":6.78,"Cerium":6.5e-17,"Dummy":4.0e-17,"Empty":1.2e-17,"Beamoff":6.4e-19},
{"E":6.80,"Cerium":6.7e-17,"Dummy":2.6e-17,"Empty":1.2e-17,"Beamoff":4e-19},
{"E":6.82,"Cerium":6.1e-17,"Dummy":4.1e-17,"Empty":1.92e-17,"Beamoff":1.28e-18},
{"E":6.84,"Cerium":6.8e-17,"Dummy":3.7e-17,"Empty":9.6e-18,"Beamoff":1.92e-18},
{"E":6.86,"Cerium":6.4e-17,"Dummy":3.2e-17,"Empty":1.44e-17,"Beamoff":6.4e-19},
{"E":6.88,"Cerium":6.0e-17,"Dummy":4.1e-17,"Empty":1.44e-17,"Beamoff":4e-19},
{"E":6.90,"Cerium":6.8e-17,"Dummy":4.1e-17,"Empty":1.2e-17,"Beamoff":1.28e-18},
{"E":6.92,"Cerium":6.1e-17,"Dummy":3.2e-17,"Empty":7.2e-18,"Beamoff":6.4e-19},
{"E":6.94,"Cerium":6.4e-17,"Dummy":3.8e-17,"Empty":1.44e-17,"Beamoff":1.28e-18},
{"E":6.96,"Cerium":5.8e-17,"Dummy":3.4e-17,"Empty":1.68e-17,"Beamoff":4e-19},
{"E":6.98,"Cerium":6.4e-17,"Dummy":4.2e-17,"Empty":1.2e-17,"Beamoff":6.4e-19},
{"E":7.00,"Cerium":5.9e-17,"Dummy":2.9e-17,"Empty":1.2e-17,"Beamoff":1.28e-18},
{"E":7.02,"Cerium":6.0e-17,"Dummy":3.6e-17,"Empty":9.6e-18,"Beamoff":6.4e-19},
{"E":7.04,"Cerium":5.4e-17,"Dummy":3.8e-17,"Empty":1.44e-17,"Beamoff":4e-19},
{"E":7.06,"Cerium":6.2e-17,"Dummy":2.6e-17,"Empty":1.68e-17,"Beamoff":1.28e-18},
{"E":7.08,"Cerium":5.7e-17,"Dummy":3.8e-17,"Empty":1.2e-17,"Beamoff":6.4e-19},
{"E":7.10,"Cerium":6.3e-17,"Dummy":3.3e-17,"Empty":7.2e-18,"Beamoff":6.4e-19},
{"E":7.12,"Cerium":5.5e-17,"Dummy":3.9e-17,"Empty":1.2e-17,"Beamoff":1.92e-18},
{"E":7.14,"Cerium":5.8e-17,"Dummy":3.1e-17,"Empty":1.44e-17,"Beamoff":4e-19},
{"E":7.16,"Cerium":5.3e-17,"Dummy":3.5e-17,"Empty":9.6e-18,"Beamoff":1.28e-18},
{"E":7.18,"Cerium":6.0e-17,"Dummy":2.9e-17,"Empty":1.44e-17,"Beamoff":6.4e-19},
{"E":7.20,"Cerium":5.6e-17,"Dummy":4.0e-17,"Empty":1.2e-17,"Beamoff":4e-19},
{"E":7.22,"Cerium":5.8e-17,"Dummy":3.1e-17,"Empty":1.68e-17,"Beamoff":1.28e-18},
{"E":7.24,"Cerium":5.3e-17,"Dummy":3.5e-17,"Empty":1.2e-17,"Beamoff":6.4e-19},
{"E":7.26,"Cerium":5.8e-17,"Dummy":2.3e-17,"Empty":9.6e-18,"Beamoff":1.28e-18},
{"E":7.28,"Cerium":5.3e-17,"Dummy":3.6e-17,"Empty":1.44e-17,"Beamoff":4e-19},
{"E":7.30,"Cerium":5.5e-17,"Dummy":3.3e-17,"Empty":1.2e-17,"Beamoff":6.4e-19},
{"E":7.32,"Cerium":4.9e-17,"Dummy":2.8e-17,"Empty":7.2e-18,"Beamoff":6.4e-19},
{"E":7.34,"Cerium":5.5e-17,"Dummy":3.6e-17,"Empty":1.44e-17,"Beamoff":1.28e-18},
{"E":7.36,"Cerium":5.2e-17,"Dummy":3.6e-17,"Empty":1.2e-17,"Beamoff":4e-19},
{"E":7.38,"Cerium":4.9e-17,"Dummy":2.8e-17,"Empty":9.6e-18,"Beamoff":6.4e-19},
{"E":7.40,"Cerium":5.6e-17,"Dummy":3.3e-17,"Empty":1.68e-17,"Beamoff":1.28e-18},
{"E":7.42,"Cerium":5.0e-17,"Dummy":3.0e-17,"Empty":1.2e-17,"Beamoff":6.4e-19},
{"E":7.44,"Cerium":5.2e-17,"Dummy":3.6e-17,"Empty":1.2e-17,"Beamoff":4e-19},
{"E":7.46,"Cerium":4.7e-17,"Dummy":2.5e-17,"Empty":9.6e-18,"Beamoff":2.56e-18},
{"E":7.48,"Cerium":5.3e-17,"Dummy":3.1e-17,"Empty":1.44e-17,"Beamoff":6.4e-19},
{"E":7.50,"Cerium":4.9e-17,"Dummy":3.2e-17,"Empty":9.6e-18,"Beamoff":1.28e-18},
{"E":7.52,"Cerium":5.0e-17,"Dummy":2.2e-17,"Empty":1.2e-17,"Beamoff":4e-19},
{"E":7.54,"Cerium":4.5e-17,"Dummy":3.3e-17,"Empty":7.2e-18,"Beamoff":6.4e-19},
{"E":7.56,"Cerium":5.1e-17,"Dummy":2.9e-17,"Empty":1.2e-17,"Beamoff":1.28e-18},
{"E":7.58,"Cerium":4.7e-17,"Dummy":3.4e-17,"Empty":1.44e-17,"Beamoff":6.4e-19},
{"E":7.60,"Cerium":5.2e-17,"Dummy":2.6e-17,"Empty":9.6e-18,"Beamoff":4e-19},
{"E":7.62,"Cerium":4.5e-17,"Dummy":3.0e-17,"Empty":1.2e-17,"Beamoff":1.28e-18},
{"E":7.64,"Cerium":4.8e-17,"Dummy":2.4e-17,"Empty":1.68e-17,"Beamoff":6.4e-19},
{"E":7.66,"Cerium":4.4e-17,"Dummy":3.4e-17,"Empty":9.6e-18,"Beamoff":6.4e-19},
{"E":7.68,"Cerium":4.9e-17,"Dummy":2.6e-17,"Empty":9.6e-18,"Beamoff":1.28e-18},
{"E":7.70,"Cerium":4.6e-17,"Dummy":3.0e-17,"Empty":1.44e-17,"Beamoff":4e-19},
{"E":7.72,"Cerium":4.7e-17,"Dummy":1.9e-17,"Empty":9.6e-18,"Beamoff":1.92e-18},
{"E":7.74,"Cerium":4.3e-17,"Dummy":3.0e-17,"Empty":1.2e-17,"Beamoff":6.4e-19},
{"E":7.76,"Cerium":4.7e-17,"Dummy":2.7e-17,"Empty":7.2e-18,"Beamoff":1.28e-18},
{"E":7.78,"Cerium":4.3e-17,"Dummy":2.3e-17,"Empty":9.6e-18,"Beamoff":4e-19},
{"E":7.80,"Cerium":4.4e-17,"Dummy":3.0e-17,"Empty":7.2e-18,"Beamoff":6.4e-19},
{"E":7.82,"Cerium":3.9e-17,"Dummy":2.9e-17,"Empty":4.8e-18,"Beamoff":1.28e-18},
{"E":7.84,"Cerium":4.3e-17,"Dummy":2.3e-17,"Empty":7.2e-18,"Beamoff":6.4e-19},
{"E":7.86,"Cerium":4.0e-17,"Dummy":2.7e-17,"Empty":4.8e-18,"Beamoff":4e-19},
{"E":7.88,"Cerium":3.7e-17,"Dummy":2.4e-17,"Empty":4.8e-18,"Beamoff":1.28e-18},
{"E":7.90,"Cerium":4.1e-17,"Dummy":3.0e-17,"Empty":4.8e-18,"Beamoff":6.4e-19},
{"E":7.92,"Cerium":3.6e-17,"Dummy":2.0e-17,"Empty":4.8e-18,"Beamoff":6.4e-19},
{"E":7.94,"Cerium":3.7e-17,"Dummy":1.1e-17,"Empty":4.8e-18,"Beamoff":1.92e-18},
{"E":7.96,"Cerium":3.3e-17,"Dummy":2.5e-17,"Empty":2.4e-18,"Beamoff":4e-19},
{"E":7.98,"Cerium":3.6e-17,"Dummy":2.0e-17,"Empty":2.4e-18,"Beamoff":1.28e-18},
{"E":8.0,"Cerium":4e-19,"Dummy":4e-19,"Empty":4e-19,"Beamoff":4e-19},
{"E":10.0,"Cerium":4e-19,"Dummy":4e-19,"Empty":4e-19,"Beamoff":4e-19}
]},
"transform": [{"fold": ["Cerium", "Dummy", "Empty", "Beamoff"], "as": ["Sample", "Rate"]}],
"mark": {"type": "line", "interpolate": "step-after", "strokeWidth": 1, "clip": true},
"encoding": {
  "x": {"field": "E", "type": "quantitative",
    "scale": {"domain": [0, 10], "nice": false, "zero": false},
    "axis": {"values": [0,0.5,1,1.5,2,2.5,3,3.5,4,4.5,5,5.5,6,6.5,7,7.5,8,8.5,9,9.5,10],
      "labelExpr": "datum.value % 2 === 0 ? format(datum.value, 'd') : ''",
      "tickSize": {"condition": {"test": "datum.value % 2 === 0", "value": -14}, "value": -7},
      "tickColor": "black", "tickWidth": 1.2, "domain": false, "grid": false,
      "labelFontSize": 25, "labelFont": "Liberation Sans", "labelColor": "black", "labelPadding": 20, "labelOverlap": false, "labelFlush": false,
      "title": "Gamma energy (MeV)", "titleFontSize": 32, "titleFont": "Liberation Sans", "titleFontWeight": "normal", "titleColor": "black",
      "titleAlign": "right", "titleAnchor": "end", "titleBaseline": "alphabetic", "titleX": 880, "titleY": 60}},
  "y": {"field": "Rate", "type": "quantitative",
    "scale": {"type": "log", "domain": [4e-19, 3e-13], "nice": false},
    "axis": {"values": [5e-19,6e-19,7e-19,8e-19,9e-19,1e-18,2e-18,3e-18,4e-18,5e-18,6e-18,7e-18,8e-18,9e-18,1e-17,2e-17,3e-17,4e-17,5e-17,6e-17,7e-17,8e-17,9e-17,1e-16,2e-16,3e-16,4e-16,5e-16,6e-16,7e-16,8e-16,9e-16,1e-15,2e-15,3e-15,4e-15,5e-15,6e-15,7e-15,8e-15,9e-15,1e-14,2e-14,3e-14,4e-14,5e-14,6e-14,7e-14,8e-14,9e-14,1e-13,2e-13],
      "labelExpr": "abs(log(datum.value)/LN10 - round(log(datum.value)/LN10)) < 0.01 ? '10⁻¹' + ['⁰','¹','²','³','⁴','⁵','⁶','⁷','⁸','⁹'][abs(round(log(datum.value)/LN10)) - 10] : ''",
      "tickSize": {"condition": {"test": "abs(log(datum.value)/LN10 - round(log(datum.value)/LN10)) < 0.01", "value": -26}, "value": -13},
      "tickColor": "black", "tickWidth": 1.2, "domain": false, "grid": false,
      "labelFontSize": 25, "labelFont": "Liberation Sans", "labelColor": "black", "labelPadding": 38, "labelOverlap": false, "labelFlush": false, "labelBaseline": "middle",
      "title": "Counts / protons", "titleFontSize": 32, "titleFont": "Liberation Sans", "titleFontWeight": "normal", "titleColor": "black",
      "titleAngle": -90, "titleAlign": "right", "titleBaseline": "alphabetic", "titleX": -92, "titleY": 0}},
  "color": {"field": "Sample", "type": "nominal",
    "scale": {"domain": ["Cerium", "Dummy", "Empty", "Beamoff"], "range": ["#000000", "#ff0000", "#0000ff", "#ff00ff"]},
    "legend": {"orient": "none", "legendX": 614, "legendY": 12, "title": null,
      "fillColor": "white", "strokeColor": "black", "padding": 6,
      "symbolType": "M-1,0H3", "symbolSize": 324, "symbolStrokeWidth": 1.5,
      "labelFontSize": 20, "labelFont": "Liberation Sans", "labelColor": "black", "labelOffset": 27, "rowPadding": 8, "labelLimit": 400,
      "labelExpr": "datum.label + '\u00a0\u00a0\u00a0\u00a0\u00a0\u00a0\u00a0\u00a0\u00a0\u00a0\u00a0\u00a0\u00a0\u00a0\u200b'"}}
},
"config": {"view": {"stroke": "black", "strokeWidth": 1.5}, "font": "Liberation Sans"}
}
